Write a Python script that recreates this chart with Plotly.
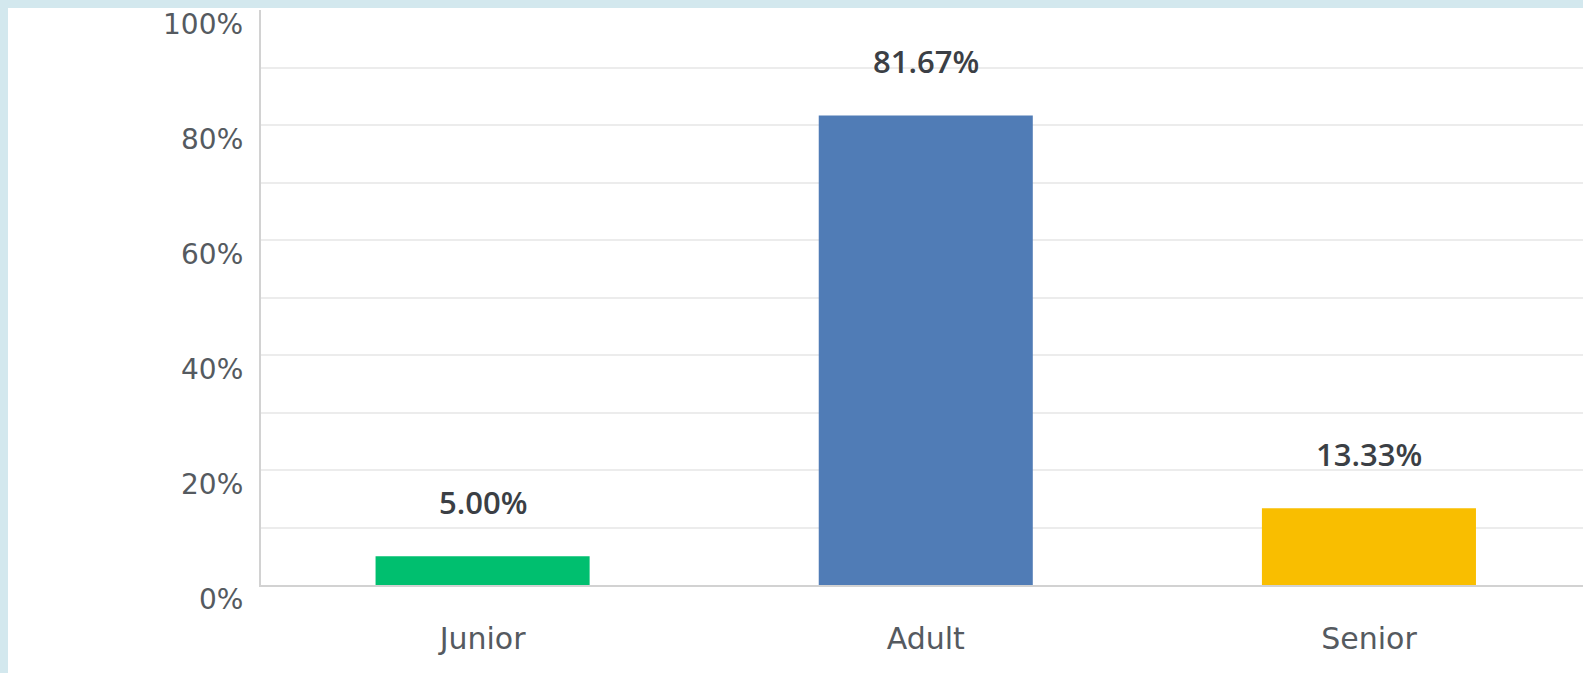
import plotly.graph_objects as go

# Data
categories = ["Junior", "Adult", "Senior"]
shares = [5.00, 81.67, 13.33]
bar_colors = ["#00bf6f", "#507cb6", "#f9be00"]
y_tick_values = [0, 20, 40, 60, 80, 100]
y_tick_labels = ["0%", "20%", "40%", "60%", "80%", "100%"]

# the page keeps an 8px light-blue strip top and left; the figure is the white card
W, H = 1575, 665
FONT = "DejaVu Sans"

fig = go.Figure(go.Bar(
    x=categories,
    y=shares,
    marker_color=bar_colors,
    marker_line_width=0,
    width=0.483,
    hoverinfo="skip",
    showlegend=False,
))

# value labels above each bar
for cat, val in zip(categories, shares):
    fig.add_annotation(
        x=cat, y=val, xref="x", yref="y",
        text=f"{val:.2f}%", showarrow=False,
        yanchor="middle", yshift=54,
        font=dict(family="Open Sans", size=31, color="#3b3f45", weight=600),
    )

# y tick labels sit a bit below their gridlines in the original
for v, lab in zip(y_tick_values, y_tick_labels):
    fig.add_annotation(
        x=0, y=v, xref="paper", yref="y",
        text=lab, showarrow=False,
        xanchor="right", yanchor="middle",
        xshift=-16, yshift=-14,
        font=dict(family=FONT, size=28, color="#555a60"),
    )

fig.update_layout(
    width=W, height=H,
    margin=dict(l=253, r=0, t=2, b=88),
    paper_bgcolor="white",
    plot_bgcolor="white",
    bargap=0.517,
    xaxis=dict(
        range=[-0.5, 2.483],
        showgrid=False,
        showline=True, linecolor="#d2d2d2", linewidth=2,
        ticks="", ticklabelstandoff=26,
        tickfont=dict(family=FONT, size=30, color="#555a60"),
        fixedrange=True,
    ),
    yaxis=dict(
        range=[0, 100],
        dtick=10,
        showgrid=True, gridcolor="#ececec", gridwidth=2,
        showline=True, linecolor="#d2d2d2", linewidth=2,
        zeroline=False,
        showticklabels=False, ticks="",
        fixedrange=True,
    ),
)

fig.write_html(
    "out.html",
    post_script=(
        "document.body.style.background = '#d3e8ee';"
        "document.body.style.margin = '8px 0 0 8px';"
        "document.body.style.overflow = 'hidden';"
    ),
)
